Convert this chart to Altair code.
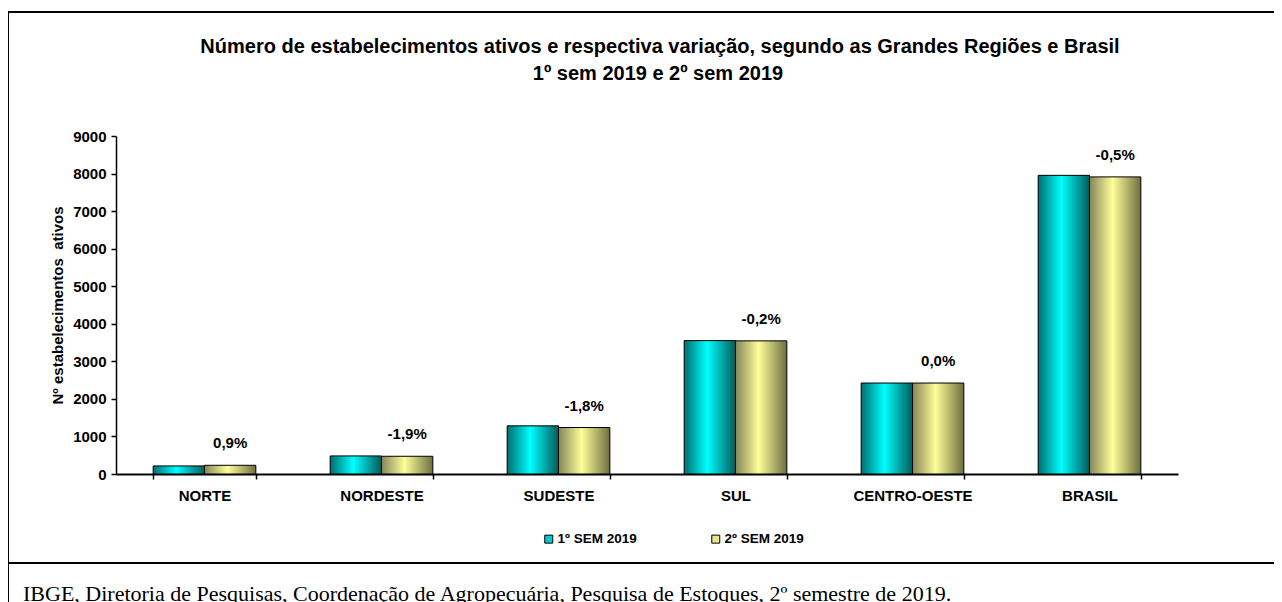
import altair as alt
import pandas as pd

regioes = ["NORTE", "NORDESTE", "SUDESTE", "SUL", "CENTRO-OESTE", "BRASIL"]
sem1 = [215, 481, 1282, 3552, 2422, 7952]
sem2 = [232, 472, 1237, 3545, 2422, 7911]
variacao = ["0,9%", "-1,9%", "-1,8%", "-0,2%", "0,0%", "-0,5%"]
series = ["1º SEM 2019", "2º SEM 2019"]
y_ticks = [0, 1000, 2000, 3000, 4000, 5000, 6000, 7000, 8000, 9000]

titulo_1 = "Número de estabelecimentos ativos e respectiva variação, segundo as Grandes Regiões e Brasil"
titulo_2 = "1º sem 2019 e 2º sem 2019"
eixo_y = "Nº estabelecimentos\u00a0 ativos"
fonte = "IBGE, Diretoria de Pesquisas, Coordenação de Agropecuária, Pesquisa de Estoques, 2º semestre de 2019."

rows = []
for r, a, b in zip(regioes, sem1, sem2):
    rows.append({"regiao": r, "serie": series[0], "valor": a})
    rows.append({"regiao": r, "serie": series[1], "valor": b})
df = pd.DataFrame(rows)
lab = pd.DataFrame({"regiao": regioes, "serie": series[1], "valor": sem2, "var": variacao})

FONT = "Liberation Sans"

grad1 = {"gradient": "linear", "x1": 0, "x2": 1, "y1": 0, "y2": 0,
         "stops": [{"offset": 0, "color": "#006e6e"},
                   {"offset": 0.45, "color": "#00ffff"},
                   {"offset": 1, "color": "#005a5a"}]}
grad2 = {"gradient": "linear", "x1": 0, "x2": 1, "y1": 0, "y2": 0,
         "stops": [{"offset": 0, "color": "#85855a"},
                   {"offset": 0.45, "color": "#ffff99"},
                   {"offset": 1, "color": "#6e6e40"}]}

x_enc = alt.X("regiao:N", sort=regioes,
              scale=alt.Scale(paddingInner=0.42, paddingOuter=0.21),
              axis=alt.Axis(title=None, labelFont=FONT, labelFontSize=15, labelFontWeight="bold",
                            labelColor="black", labelAngle=0, labelPadding=9,
                            domainColor="black", domainWidth=2, tickColor="black",
                            tickSize=5, tickWidth=1.5, tickBand="extent", grid=False))
xo_enc = alt.XOffset("serie:N", sort=series, scale=alt.Scale(paddingInner=0, paddingOuter=0))
y_enc = alt.Y("valor:Q", scale=alt.Scale(domain=[0, 9000], nice=False),
              axis=alt.Axis(title=eixo_y, values=y_ticks, format="d", labelFont=FONT,
                            labelFontSize=15, labelFontWeight="bold", labelColor="black",
                            labelPadding=5, tickSize=5, tickColor="black", tickWidth=1.5,
                            labelOverlap=False,
                            domainColor="black", domainWidth=1.5, grid=False,
                            titleFont=FONT, titleFontSize=15, titleFontWeight="bold",
                            titleColor="black", titlePadding=7))

bars = alt.Chart(df).mark_bar(stroke="black", strokeWidth=1).encode(
    x=x_enc, xOffset=xo_enc, y=y_enc,
    fill=alt.condition("datum.serie == '1º SEM 2019'", alt.value(grad1), alt.value(grad2)),
)

labels = alt.Chart(lab).mark_text(dy=-22, font=FONT, fontSize=15, fontWeight="bold", color="black").encode(
    x=x_enc, xOffset=xo_enc, y=y_enc, text="var:N")

legend_layer = alt.Chart(df).mark_square(opacity=0).encode(
    x=x_enc, xOffset=xo_enc, y=y_enc,
    color=alt.Color("serie:N", sort=series,
                    scale=alt.Scale(domain=series, range=["#00cccc", "#e6e68a"]),
                    legend=alt.Legend(title=None, orient="none", legendX=426, legendY=396,
                                      direction="horizontal", symbolType="square", symbolSize=64,
                                      symbolStrokeColor="black", symbolStrokeWidth=1,
                                      symbolOpacity=1, labelFont=FONT, labelFontSize=13.5,
                                      labelFontWeight="bold", labelColor="black", labelOffset=2,
                                      columnPadding=72, padding=0)))

one = pd.DataFrame({"a": [0]})
top_line = alt.Chart(one).mark_rule(color="black", strokeWidth=2).encode(
    x=alt.value(-108), x2=alt.value(1160), y=alt.value(-124))
left_line = alt.Chart(one).mark_rule(color="black", strokeWidth=2).encode(
    x=alt.value(-108), y=alt.value(-124), y2=alt.value(470))
bottom_line = alt.Chart(one).mark_rule(color="black", strokeWidth=2).encode(
    x=alt.value(-108), x2=alt.value(1160), y=alt.value(427))
footer = alt.Chart(one).mark_text(align="left", baseline="alphabetic", font="Liberation Serif",
                                  fontSize=22, color="black").encode(
    x=alt.value(-93), y=alt.value(465), text=alt.value(fonte))
title1 = alt.Chart(one).mark_text(align="center", baseline="middle", font=FONT, fontSize=20,
                                  fontWeight="bold", color="black").encode(
    x=alt.value(544), y=alt.value(-89), text=alt.value(titulo_1))
title2 = alt.Chart(one).mark_text(align="center", baseline="middle", font=FONT, fontSize=20,
                                  fontWeight="bold", color="black").encode(
    x=alt.value(542), y=alt.value(-62), text=alt.value(titulo_2))

chart = alt.layer(bars, labels, legend_layer, top_line, left_line, bottom_line, footer,
                  title1, title2).properties(
    width=1062, height=338,
    padding={"left": 108, "top": 128, "right": 96, "bottom": 128},
    autosize=alt.AutoSizeParams(type="none"),
).configure(background="white").configure_view(stroke=None)

chart.save("out.html", embed_options={"renderer": "svg", "actions": False})
